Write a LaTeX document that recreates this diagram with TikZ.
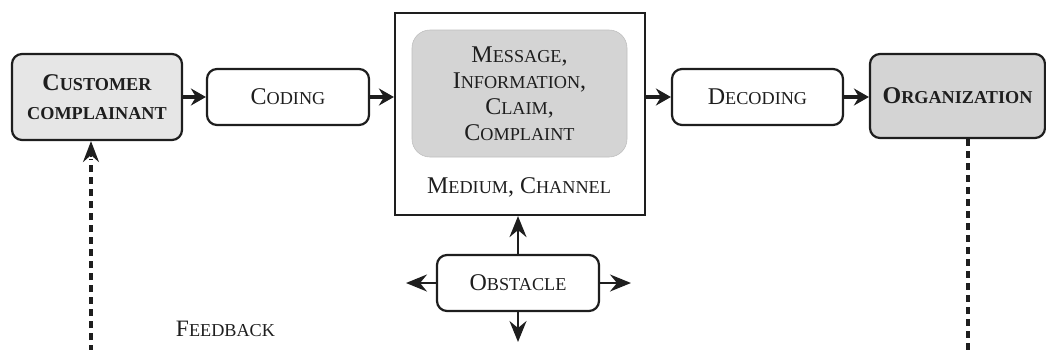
\documentclass[tikz,border=0pt]{standalone}
\usepackage{fontspec}
\setmainfont{Liberation Serif}
\usetikzlibrary{arrows.meta}
\newcommand\scp[2]{#1{\fontsize{18.2}{20}\selectfont #2}}
\definecolor{ink}{HTML}{1E1E1E}
\definecolor{lightfill}{HTML}{E6E6E6}
\definecolor{midfill}{HTML}{D4D4D4}
\tikzset{
  every node/.style={text=ink},
  roundbox/.style={draw=ink, line width=2.2pt, rounded corners=10pt, inner sep=0pt, align=center,
    font=\fontsize{24}{28}\selectfont},
  flow/.style={draw=ink, line width=3.4pt, -{Stealth[length=15pt,width=17pt,inset=5pt]}},
  obsarrow/.style={draw=ink, line width=2.4pt, -{Stealth[length=21pt,width=17pt,inset=7pt]}},
  fb/.style={draw=ink, line width=3.2pt, dash pattern=on 7pt off 5pt}
}
\begin{document}
\begin{tikzpicture}[x=1pt,y=-1pt]
\useasboundingbox (0,0) rectangle (1046,349);
% nodes
\node[roundbox, fill=lightfill, minimum width=170pt, minimum height=86pt, font=\bfseries\fontsize{24}{29}\selectfont]
  (cust) at (97,97) {\scp{C}{USTOMER}\\ \scp{}{COMPLAINANT}};
\node[roundbox, fill=white, minimum width=162pt, minimum height=56pt] (coding) at (288,97) {\scp{C}{ODING}};
\node[draw=ink, line width=2.2pt, minimum width=250pt, minimum height=202pt, inner sep=0pt] (medium) at (520,114) {};
\node[fill=midfill, draw=midfill!90!black, line width=0.6pt, rounded corners=18pt, minimum width=215pt, minimum height=127pt,
  inner sep=0pt, align=center, font=\fontsize{24}{26}\selectfont] (msg) at (519.5,93.5)
  {\scp{M}{ESSAGE},\\ \scp{I}{NFORMATION},\\ \scp{C}{LAIM},\\ \scp{C}{OMPLAINT}};
\node[font=\fontsize{24}{28}\selectfont, inner sep=0pt] (chan) at (519,187) {\scp{M}{EDIUM}, \scp{C}{HANNEL}};
\node[roundbox, fill=white, minimum width=171pt, minimum height=56pt] (decoding) at (757.5,97) {\scp{D}{ECODING}};
\node[roundbox, fill=midfill, minimum width=175pt, minimum height=84pt, font=\bfseries\fontsize{24}{28}\selectfont]
  (org) at (957.5,96) {\scp{O}{RGANIZATION}};
\node[roundbox, fill=white, minimum width=162pt, minimum height=56pt] (obs) at (518,283) {\scp{O}{BSTACLE}};
\node[font=\fontsize{23.5}{26}\selectfont, inner sep=0pt] (feedback) at (225.5,329) {\scp{F}{EEDBACK}};
% free ends
\coordinate (obsL) at (406,283);
\coordinate (obsR) at (631,283);
\coordinate (obsD) at (518,342);
\coordinate (custfoot) at (91,352);
\coordinate (orgfoot) at (968,352);
% connectors
\draw[flow] (cust.east) -- (coding.west);
\draw[flow] (coding.east) -- (coding.east -| medium.west);
\draw[flow] (decoding.west -| medium.east) -- (decoding.west);
\draw[flow] (decoding.east) -- (org.west |- decoding.east);
\draw[obsarrow] (obs.north) -- (obs.north |- medium.south);
\draw[obsarrow] (obs.west) -- (obsL);
\draw[obsarrow] (obs.east) -- (obsR);
\draw[obsarrow] (obs.south) -- (obsD);
\draw[fb] (custfoot) -- ([yshift=-18pt]custfoot |- cust.south);
\draw[draw=ink, line width=2.4pt, -{Stealth[length=21pt,width=16pt,inset=7pt]}] ([yshift=-16pt]custfoot |- cust.south) -- (custfoot |- cust.south);
\draw[fb] (org.south -| orgfoot) -- (orgfoot);
\end{tikzpicture}
\end{document}
